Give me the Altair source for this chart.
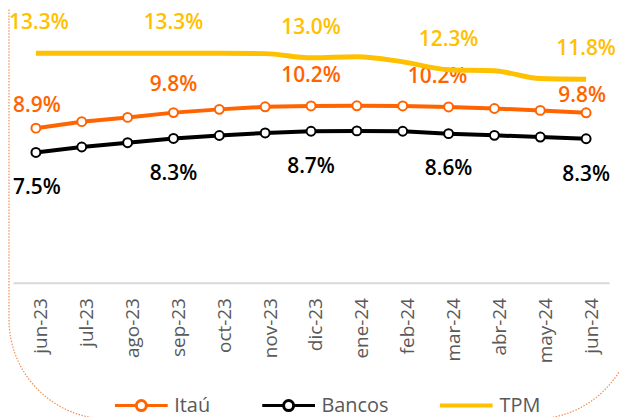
import altair as alt
import pandas as pd

# ---- data ----
months = ["jun-23", "jul-23", "ago-23", "sep-23", "oct-23", "nov-23", "dic-23",
          "ene-24", "feb-24", "mar-24", "abr-24", "may-24", "jun-24"]
itau = [8.92, 9.30, 9.55, 9.83, 10.02, 10.17, 10.22, 10.23, 10.22, 10.16, 10.07, 9.96, 9.82]
bancos = [7.50, 7.82, 8.07, 8.32, 8.49, 8.64, 8.74, 8.76, 8.74, 8.60, 8.50, 8.40, 8.30]
tpm = [13.30, 13.30, 13.30, 13.30, 13.30, 13.28, 13.04, 13.10, 12.80, 12.34, 12.28, 11.82, 11.78]
series_names = ["Itaú", "Bancos", "TPM"]
label_months = ["jun-23", "sep-23", "dic-23", "mar-24", "jun-24"]

ORANGE = "#FF6400"
BLACK = "#000000"
YELLOW = "#FFC000"
GRAY = "#595959"
FONT = "Open Sans"

rows = []
for name, vals in zip(series_names, [itau, bancos, tpm]):
    for m, v in zip(months, vals):
        rows.append({"month": m, "series": name, "value": v})
df = pd.DataFrame(rows)

x = alt.X(
    "month:N", sort=months,
    scale=alt.Scale(type="point", padding=0.5),
    axis=alt.Axis(title=None, labelAngle=-90, labelFont=FONT, labelFontSize=19,
                  labelColor=GRAY, ticks=False, labelPadding=15, labelOffset=5,
                  domainColor="#D9D9D9", domainWidth=2, offset=2, grid=False),
)
y = alt.Y("value:Q", scale=alt.Scale(domain=[0, 15.6]), axis=None)
base = alt.Chart(df).encode(x=x, y=y)

CIRCLE_PATH = ("M-1,0L-0.19,0M0.19,0L1,0"
               "M0.19,0A0.19,0.19,0,1,1,-0.19,0A0.19,0.19,0,1,1,0.19,0")

legend_a = alt.Legend(title=None, orient="none", legendX=101, legendY=365,
                      direction="horizontal", symbolType=CIRCLE_PATH,
                      symbolSize=2809, symbolStrokeWidth=3, symbolFillColor="white",
                      labelFont=FONT, labelFontSize=20, labelColor=GRAY,
                      labelOffset=5, columnPadding=45, padding=0)
legend_b = alt.Legend(title=None, orient="none", legendX=427, legendY=365,
                      direction="horizontal", symbolType="M-1,0L1,0",
                      symbolSize=2809, symbolStrokeWidth=4,
                      labelFont=FONT, labelFontSize=20, labelColor=GRAY,
                      labelOffset=5, padding=0)

color_a = alt.Color("series:N", scale=alt.Scale(domain=["Itaú", "Bancos"], range=[ORANGE, BLACK]),
                    legend=legend_a)
color_b = alt.Color("series:N", scale=alt.Scale(domain=["TPM"], range=[YELLOW]),
                    legend=legend_b)

sel_a = alt.FieldOneOfPredicate(field="series", oneOf=["Itaú", "Bancos"])
line_a = base.transform_filter(sel_a).mark_line(strokeWidth=4).encode(color=color_a)
point_a = base.transform_filter(sel_a).mark_point(
    filled=False, fill="white", size=80, strokeWidth=2, opacity=1).encode(color=color_a)

line_b = base.transform_filter(alt.datum.series == "TPM").mark_line(
    strokeWidth=5, interpolate="monotone").encode(color=color_b)


def labels(series, color, offsets, default):
    out = []
    for m in label_months:
        dx, dy = offsets.get(m, default)
        out.append(
            base.transform_filter((alt.datum.series == series) & (alt.datum.month == m))
            .transform_calculate(label="format(datum.value, '.1f') + '%'")
            .mark_text(font=FONT, fontSize=21, fontWeight=600, color=color,
                       baseline="middle", align="center", dx=dx, dy=dy)
            .encode(text="label:N")
        )
    return out


itau_off = {"jun-23": (1, -22), "sep-23": (0, -28), "dic-23": (0, -30),
            "mar-24": (-11, -30), "jun-24": (-4, -17)}
text_itau = labels("Itaú", ORANGE, itau_off, (0, -28))
text_bancos = labels("Bancos", BLACK, {"jun-23": (1, 36)}, (0, 36))
text_tpm = labels("TPM", YELLOW, {"jun-23": (3, -30)}, (0, -30))

frame = alt.Chart(alt.Data(values=[{"k": 0}])).mark_rect(
    fillOpacity=0, stroke="#F28C50", strokeWidth=1.2, strokeDash=[1.5, 1.5],
    cornerRadius=100).encode(x=alt.value(-4), x2=alt.value(624),
                             y=alt.value(-250), y2=alt.value(407))

group_a = alt.layer(line_a, point_a, *text_itau, *text_bancos)
group_b = alt.layer(line_b, *text_tpm)

chart = alt.layer(frame, group_a, group_b).resolve_scale(color="independent").properties(
    width=599, height=268,
    autosize=alt.AutoSizeParams(type="none"),
    padding={"left": 5, "top": 5, "right": 10, "bottom": 136},
).configure_view(strokeWidth=0)

chart.save("out.html", embed_options={"renderer": "svg", "actions": False})
